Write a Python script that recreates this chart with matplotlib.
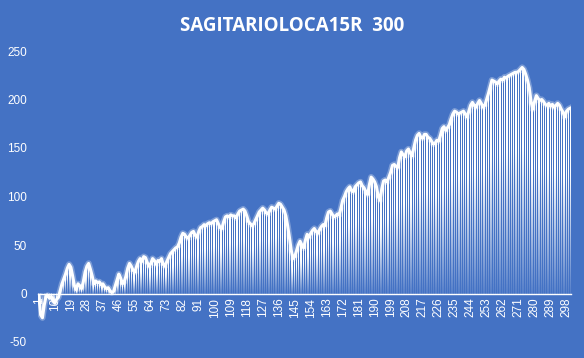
import numpy as np
import matplotlib
matplotlib.use("Agg")
import matplotlib.pyplot as plt
import matplotlib.patheffects as pe

title = "SAGITARIOLOCA15R  300"
values = [
    -3, -22, -25, -12, -3, -2, -5, -3, -8, -10,
    -6, -4, 3, 10, 15, 20, 26, 30, 27, 18,
    8, 4, 10, 8, 5, 12, 22, 28, 31, 25,
    18, 10, 13, 11, 12, 9, 10, 7, 5, 6,
    3, 1, 2, 8, 14, 20, 16, 10, 12, 18,
    26, 31, 28, 24, 22, 28, 33, 36, 33, 38,
    37, 32, 28, 31, 36, 34, 30, 34, 33, 36,
    30, 28, 33, 37, 41, 43, 45, 47, 48, 52,
    58, 62, 61, 58, 57, 60, 63, 64, 60, 58,
    64, 68, 69, 71, 70, 72, 73, 72, 74, 75,
    76, 72, 68, 67, 74, 79, 80, 79, 81, 80,
    80, 78, 82, 85, 86, 87, 85, 80, 74, 72,
    70, 72, 76, 80, 84, 86, 88, 86, 83, 82,
    86, 89, 88, 87, 90, 93, 92, 89, 86, 80,
    70, 58, 45, 36, 38, 44, 50, 54, 50, 47,
    55, 61, 58, 62, 65, 67, 64, 62, 66, 69,
    71, 70, 78, 84, 85, 82, 79, 80, 82, 81,
    88, 96, 100, 105, 108, 110, 106, 105, 110, 112,
    114, 115, 111, 109, 105, 102, 112, 120, 118, 115,
    110, 100, 96, 108, 116, 117, 115, 120, 125, 132,
    133, 131, 130, 140, 146, 143, 141, 147, 149, 145,
    142, 150, 158, 163, 165, 161, 160, 164, 164, 161,
    160, 157, 154, 155, 158, 157, 163, 170, 172, 168,
    171, 174, 180, 185, 188, 187, 185, 186, 187, 188,
    185, 182, 188, 194, 197, 194, 192, 196, 199, 196,
    192, 194, 200, 206, 213, 220, 219, 218, 216, 219,
    221, 220, 223, 222, 224, 225, 226, 227, 228, 228,
    229, 231, 233, 231, 226, 220, 212, 198, 190, 198,
    204, 201, 199, 200, 198, 195, 194, 196, 193, 195,
    192, 194, 196, 194, 190, 187, 182, 188, 190, 191,
]
categories = list(range(1, len(values) + 1))
xtick_labels = [str(c) for c in range(1, 301, 9)]
yticks = [-50, 0, 50, 100, 150, 200, 250]

BG = "#4472C4"

fig = plt.figure(figsize=(5.84, 3.58), dpi=100, facecolor=BG)
ax = fig.add_axes([38 / 584, 1 - 342 / 358, 533 / 584, 291 / 358])
ax.set_facecolor(BG)

# gradient bars
n = 64
grad = np.ones((n, 1, 4))
t = np.linspace(0, 1, n)
grad[:, 0, 3] = np.clip(0.1 + t * 1.4, 0, 1)
w = 0.55
for x, v in zip(categories, values):
    if v >= 0:
        ax.imshow(grad, extent=(x - w / 2, x + w / 2, 0, v), origin="lower",
                  aspect="auto", interpolation="bilinear", zorder=2)
    else:
        ax.imshow(grad, extent=(x - w / 2, x + w / 2, v, 0), origin="upper",
                  aspect="auto", interpolation="bilinear", zorder=2)

ax.plot(categories, values, color="white", lw=2.2, zorder=4,
        solid_joinstyle="round",
        path_effects=[pe.Stroke(linewidth=4.5, foreground="white", alpha=0.3),
                      pe.Normal()])

ax.set_xlim(0.5, 300.5)
ax.set_ylim(-50, 250)

for s in ["top", "right", "left"]:
    ax.spines[s].set_visible(False)
ax.spines["bottom"].set_position(("data", 0))
ax.spines["bottom"].set_color("white")
ax.spines["bottom"].set_linewidth(1.0)
ax.spines["bottom"].set_zorder(3)

ax.set_xticks(list(range(1, 301, 9)))
ax.set_xticklabels(xtick_labels, rotation=90, color="white",
                   fontsize=8.5, family="Liberation Sans")
ax.set_yticks(yticks)
ax.set_yticklabels([str(y) for y in yticks], color="white",
                   fontsize=8.5, family="Liberation Sans")
ax.tick_params(axis="x", length=0, pad=3)
ax.tick_params(axis="y", length=0, pad=8)
for lab in ax.get_yticklabels():
    lab.set_horizontalalignment("right")

fig.text(0.5, 1 - 26 / 358, title, ha="center", va="center", color="white",
         fontsize=13.5, fontweight="bold", family="Open Sans")

fig.savefig("out.png", dpi=100, facecolor=BG)
